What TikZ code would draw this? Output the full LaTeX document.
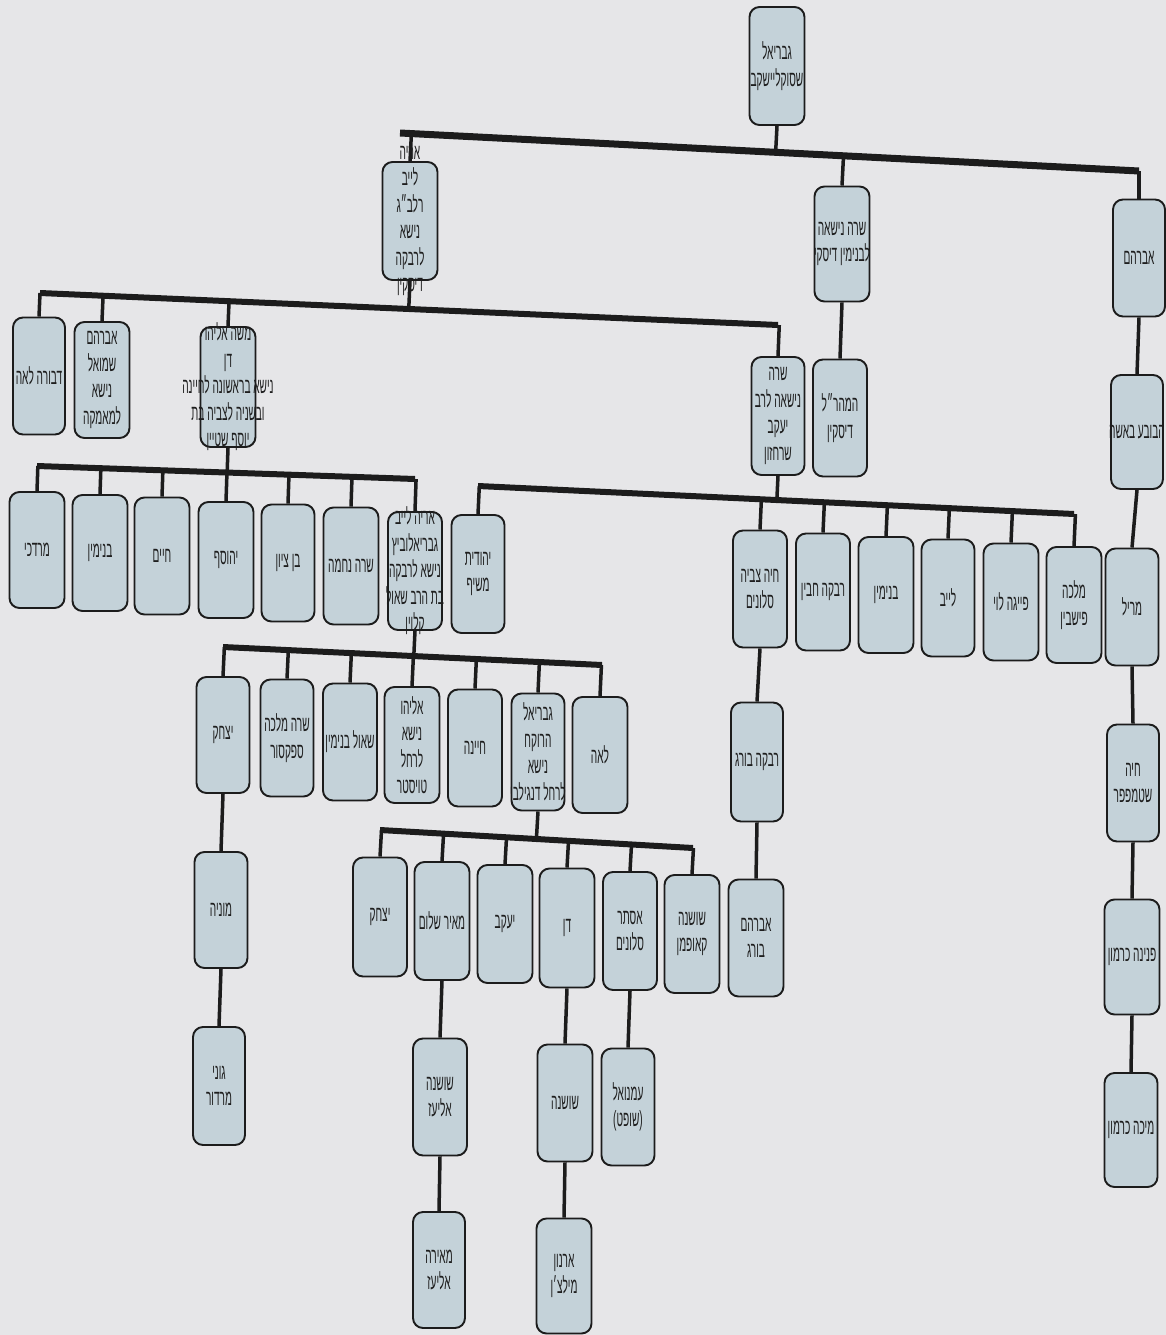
\documentclass[tikz,border=0pt]{standalone}
\usepackage{fontspec}
\usepackage{graphicx}
\usetikzlibrary{calc}
\newfontfamily\hebfont[Script=Hebrew]{Liberation Sans}
\TeXXeTstate=1
\definecolor{paper}{RGB}{230,230,232}
\definecolor{boxfill}{RGB}{196,210,217}
\definecolor{ink}{RGB}{28,28,28}
\definecolor{txt}{RGB}{30,30,30}
\newcommand\hl[1]{\scalebox{0.46}[1]{\beginR #1\endR}}
\pgfdeclarelayer{paperlayer}
\pgfdeclarelayer{linelayer}
\pgfsetlayers{paperlayer,linelayer,main}
\tikzset{
 pbox/.style={draw=ink, line width=1.9pt, rounded corners=10pt, fill=boxfill, inner sep=0pt},
 lbl/.style={align=center, font=\hebfont\fontsize{22}{26.5}\selectfont, text=txt, inner sep=0pt},
 bar/.style={draw=ink, line width=6pt, line cap=square},
 drop/.style={draw=ink, line width=3.5pt},
}
\newcommand\pb[6]{\node[pbox, minimum width=#4pt, minimum height=#5pt, label={[lbl]center:{#6}}] (#1) at (#2,#3) {};}
\begin{document}
\begin{tikzpicture}[x=1pt,y=-1pt]
\useasboundingbox (0,0) rectangle (1166,1335);
\begin{pgfonlayer}{paperlayer}
\fill[paper] (0,0) rectangle (1166,1335);
\end{pgfonlayer}
% generation 0/1
\pb{g0}{777}{66}{55}{118}{\hl{גבריאל}\\\hl{שסוקליישקב}}
\pb{a1}{410}{221}{55}{118}{\hl{אריה}\\\hl{לייב}\\\hl{רלב״ג}\\\hl{נישא}\\\hl{לרבקה}\\\hl{דיסקין}}
\pb{s1}{842}{244}{55}{115}{\hl{שרה נישאה}\\\hl{לבנימין דיסקי}}
\pb{b1}{1139}{258}{52}{117}{\hl{אברהם}}
% generation 2
\pb{d2}{39}{376}{52}{117}{\hl{דבורה לאה}}
\pb{as2}{102}{380}{55}{116}{\hl{אברהם}\\\hl{שמואל}\\\hl{נישא}\\\hl{למאמקה}}
\pb{m2}{228}{387}{55}{120}{\hl{משה אליהו}\\\hl{דן}\\\hl{נישא בראשונה לחיינה}\\\hl{ובשניה לצביה בת}\\\hl{יוסף שטיין}}
\pb{sr2}{778}{416}{53}{118}{\hl{שרה}\\\hl{נישאה לרב}\\\hl{יעקב}\\\hl{שרחזון}}
\pb{mh2}{840}{418}{54}{117}{\hl{המהר״ל}\\\hl{דיסקין}}
\pb{bb2}{1137}{432}{52}{114}{\hl{הבובע באשה}}
% Abraham line
\pb{mr3}{1132}{607}{53}{117}{\hl{מריל}}
\pb{ch4}{1133}{783}{52}{117}{\hl{חיה}\\\hl{שטמפפר}}
\pb{pn5}{1132}{957}{55}{115}{\hl{פנינה כרמון}}
\pb{mk6}{1131}{1130}{53}{114}{\hl{מיכה כרמון}}
% Moshe's children
\pb{c31}{37}{550}{55}{116}{\hl{מרדכי}}
\pb{c32}{100}{553}{55}{116}{\hl{בנימין}}
\pb{c33}{162}{556}{55}{117}{\hl{חיים}}
\pb{c34}{226}{560}{55}{116}{\hl{יהוסף}}
\pb{c35}{288}{563}{53}{117}{\hl{בן ציון}}
\pb{c36}{351}{566}{55}{117}{\hl{שרה נחמה}}
\pb{c37}{415}{571}{54}{118}{\hl{אריה לייב}\\\hl{גבריאלוביץ}\\\hl{נישא לרבקה}\\\hl{בת הרב שאול}\\\hl{קלוין}}
% Sarah's children
\pb{e1}{478}{574}{53}{118}{\hl{יהודית}\\\hl{משיף}}
\pb{e2}{760}{589}{54}{117}{\hl{חיה צביה}\\\hl{סלונים}}
\pb{e3}{823}{592}{54}{117}{\hl{רבקה חבין}}
\pb{e4}{886}{595}{55}{116}{\hl{בנימין}}
\pb{e5}{948}{598}{53}{117}{\hl{לייב}}
\pb{e6}{1011}{602}{55}{117}{\hl{פייגה לוי}}
\pb{e7}{1074}{605}{55}{116}{\hl{מלכה}\\\hl{פישבין}}
\pb{rb}{757}{762}{52}{119}{\hl{רבקה בורג}}
\pb{ab}{756}{938}{55}{117}{\hl{אברהם}\\\hl{בורג}}
% Aryeh Leib Gavrielovitz's children
\pb{f1}{223}{735}{53}{116}{\hl{יצחק}}
\pb{f2}{287}{738}{53}{117}{\hl{שרה מלכה}\\\hl{ספקסור}}
\pb{f3}{350}{742}{54}{117}{\hl{שאול בנימין}}
\pb{f4}{412}{745}{55}{116}{\hl{אליהו}\\\hl{נישא}\\\hl{לרחל}\\\hl{טויסטר}}
\pb{f5}{475}{748}{54}{117}{\hl{חיינה}}
\pb{f6}{538}{752}{53}{117}{\hl{גבריאל}\\\hl{הרוקח}\\\hl{נישא}\\\hl{לרחל דנגילבי}}
\pb{f7}{600}{755}{55}{116}{\hl{לאה}}
\pb{mo}{221}{910}{53}{116}{\hl{מוניה}}
\pb{gm}{219}{1086}{52}{118}{\hl{גוני}\\\hl{מרדור}}
% Gavriel HaRokeach's children
\pb{h1}{380}{917}{54}{119}{\hl{יצחק}}
\pb{h2}{442}{921}{55}{118}{\hl{מאיר שלום}}
\pb{h3}{505}{924}{55}{118}{\hl{יעקב}}
\pb{h4}{567}{928}{55}{119}{\hl{דן}}
\pb{h5}{630}{931}{54}{118}{\hl{אסתר}\\\hl{סלונים}}
\pb{h6}{692}{934}{55}{118}{\hl{שושנה}\\\hl{קאופמן}}
\pb{i1}{440}{1097}{54}{117}{\hl{שושנה}\\\hl{אליעז}}
\pb{i2}{565}{1103}{55}{117}{\hl{שושנה}}
\pb{i3}{628}{1107}{53}{117}{\hl{עמנואל}\\\hl{(שופט)}}
\pb{j1}{439}{1270}{52}{116}{\hl{מאירה}\\\hl{אליעז}}
\pb{j2}{564}{1276}{55}{115}{\hl{ארנון}\\\hl{מילצ׳ן}}
% connectors
\begin{pgfonlayer}{linelayer}
\coordinate (L0) at (400,133); \coordinate (R0) at (1139,171);
\draw[bar, line width=7pt] (L0) -- (R0);
\draw[drop] (g0.south) -- ($(L0)!(g0.south)!(R0)$);
\foreach \n in {a1,s1}{\draw[drop] (\n.north) -- ($(L0)!(\n.north)!(R0)$);}
\draw[drop] (R0) -- (b1.north);
\coordinate (L1) at (40,293); \coordinate (R1) at (778,325);
\draw[bar] (L1) -- (R1);
\draw[drop] (a1.south) -- ($(L1)!(a1.south)!(R1)$);
\foreach \n in {d2,as2,m2,sr2}{\draw[drop] (\n.north) -- ($(L1)!(\n.north)!(R1)$);}
\coordinate (L2) at (37,466); \coordinate (R2) at (415,479);
\draw[bar] (L2) -- (R2);
\draw[drop] (m2.south) -- ($(L2)!(m2.south)!(R2)$);
\foreach \n in {c31,c32,c33,c34,c35,c36,c37}{\draw[drop] (\n.north) -- ($(L2)!(\n.north)!(R2)$);}
\coordinate (L3) at (478,486); \coordinate (R3) at (1074,514);
\draw[bar] (L3) -- (R3);
\draw[drop] (sr2.south) -- ($(L3)!(sr2.south)!(R3)$);
\foreach \n in {e1,e2,e3,e4,e5,e6,e7}{\draw[drop] (\n.north) -- ($(L3)!(\n.north)!(R3)$);}
\coordinate (L4) at (223,647); \coordinate (R4) at (602,665);
\draw[bar] (L4) -- (R4);
\draw[drop] (c37.south) -- ($(L4)!(c37.south)!(R4)$);
\foreach \n in {f1,f2,f3,f4,f5,f6,f7}{\draw[drop] (\n.north) -- ($(L4)!(\n.north)!(R4)$);}
\coordinate (L5) at (380,830); \coordinate (R5) at (693,848);
\draw[bar] (L5) -- (R5);
\draw[drop] (f6.south) -- ($(L5)!(f6.south)!(R5)$);
\foreach \n in {h1,h2,h3,h4,h5,h6}{\draw[drop] (\n.north) -- ($(L5)!(\n.north)!(R5)$);}
\draw[drop] (s1.south) -- (mh2.north);
\draw[drop] (b1.south) -- (bb2.north);
\draw[drop] (bb2.south) -- (mr3.north);
\draw[drop] (mr3.south) -- (ch4.north);
\draw[drop] (ch4.south) -- (pn5.north);
\draw[drop] (pn5.south) -- (mk6.north);
\draw[drop] (e2.south) -- (rb.north);
\draw[drop] (rb.south) -- (ab.north);
\draw[drop] (f1.south) -- (mo.north);
\draw[drop] (mo.south) -- (gm.north);
\draw[drop] (h2.south) -- (i1.north);
\draw[drop] (i1.south) -- (j1.north);
\draw[drop] (h4.south) -- (i2.north);
\draw[drop] (i2.south) -- (j2.north);
\draw[drop] (h5.south) -- (i3.north);
\end{pgfonlayer}
\end{tikzpicture}
\end{document}
